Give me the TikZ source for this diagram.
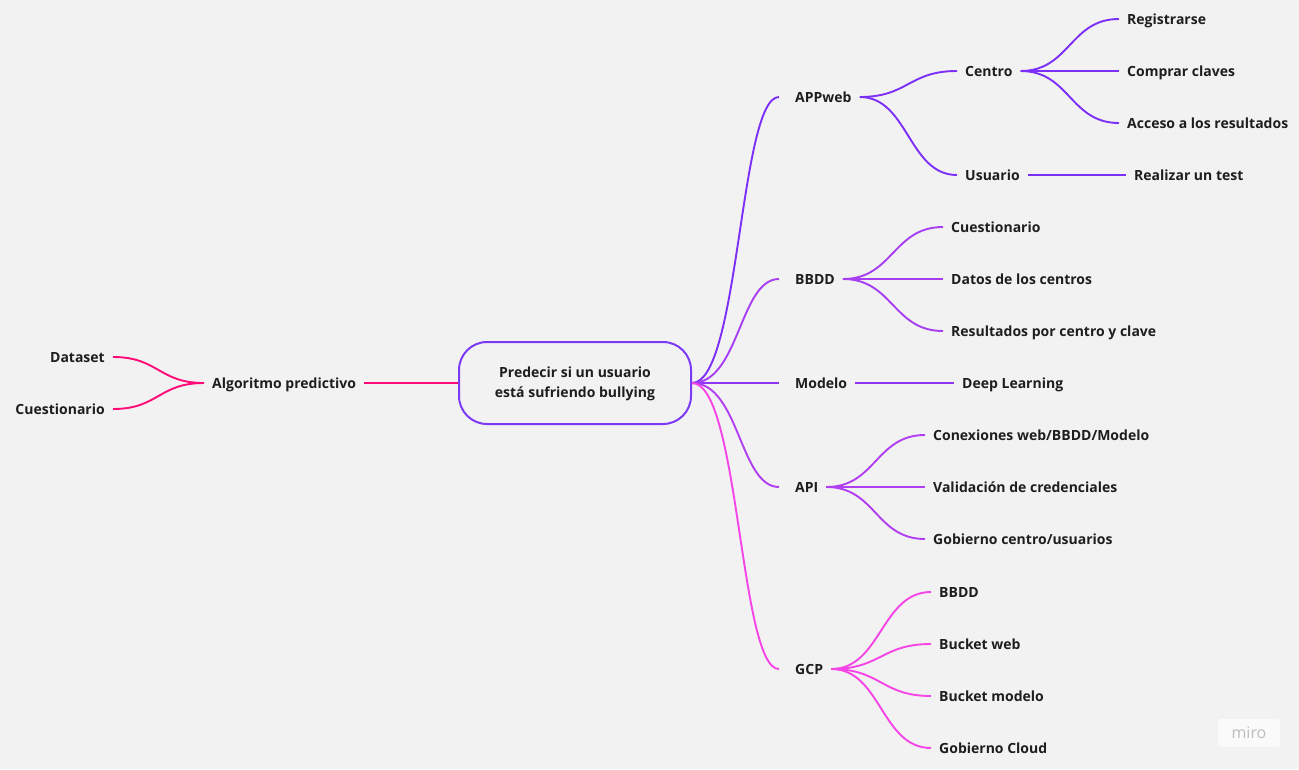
\documentclass[tikz,border=0pt]{standalone}
\usepackage{fontspec}
\setmainfont{Open Sans}
\usetikzlibrary{calc,positioning}
\definecolor{cBG}{HTML}{F2F2F2}
\definecolor{cTXT}{HTML}{1E1E1E}
\definecolor{cBOX}{HTML}{7C3AF5}
\definecolor{cALG}{HTML}{FF0A78}
\definecolor{cAPP}{HTML}{7B2FF7}
\definecolor{cBD}{HTML}{A83EF2}
\definecolor{cMOD}{HTML}{8F36F6}
\definecolor{cAPI}{HTML}{B13EF0}
\definecolor{cGCP}{HTML}{F645E6}
\tikzset{
  sbend/.style={line width=1.9pt, to path={let \p1=(\tikztostart), \p2=(\tikztotarget) in .. controls ({0.5*\x1+0.5*\x2},\y1) and ({0.5*\x1+0.5*\x2},\y2) .. (\tikztotarget) \tikztonodes}},
  lbl/.style={text=cTXT, font=\fontsize{14}{17}\selectfont\bfseries, inner xsep=8pt, inner ysep=3pt, text height=10pt, text depth=0pt},
}

\begin{document}
\begin{tikzpicture}[x=1pt, y=-1pt]
\fill[cBG] (0,0) rectangle (1299,769);
\useasboundingbox (0,0) rectangle (1299,769);
% centre
\node[draw=cBOX, line width=2pt, rounded corners=28pt, minimum width=232pt, minimum height=82pt, align=center, text=cTXT, font=\fontsize{14}{20}\selectfont\bfseries] (root) at (575,383) {\rule{0pt}{12pt}Predecir si un usuario\\está sufriendo bullying};
% left side
\node[lbl, anchor=west] (algo) at (204,383) {Algoritmo predictivo};
\node[lbl, anchor=east] (dataset) at (113,357) {Dataset};
\node[lbl, anchor=east] (cuest) at (113,409) {Cuestionario};
\draw[cALG, sbend] (algo.east) to (root.west);
\foreach \k in {dataset,cuest} \draw[cALG, sbend] (algo.west) to (\k.east);
% first level
\foreach \k/\t/\v/\c in {appweb/APPweb/97/cAPP, bbdd/BBDD/279/cBD, modelo/Modelo/383/cMOD, api/API/487/cAPI, gcp/GCP/669/cGCP}{
  \node[lbl, anchor=west] (\k) at (787,\v) {\t};
  \draw[\c, sbend, shorten >=8pt] (root.east) to (\k.west);
}
% APPweb
\node[lbl, anchor=west] (centro) at (957,71) {Centro};
\node[lbl, anchor=west] (usuario) at (957,175) {Usuario};
\foreach \k in {centro,usuario} \draw[cAPP, sbend] (appweb.east) to (\k.west);
\foreach \k/\t/\v in {regis/Registrarse/19, compr/Comprar claves/71, acceso/Acceso a los resultados/123}{
  \node[lbl, anchor=west] (\k) at (1119,\v) {\t};
  \draw[cAPP, sbend] (centro.east) to (\k.west);
}
\node[lbl, anchor=west] (realizar) at (1126,175) {Realizar un test};
\draw[cAPP, sbend] (usuario.east) to (realizar.west);
% BBDD
\foreach \k/\t/\v in {cuest2/Cuestionario/227, datos/Datos de los centros/279, resul/Resultados por centro y clave/331}{
  \node[lbl, anchor=west] (\k) at (943,\v) {\t};
  \draw[cBD, sbend] (bbdd.east) to (\k.west);
}
% Modelo
\node[lbl, anchor=west] (deep) at (954,383) {Deep Learning};
\draw[cMOD, sbend] (modelo.east) to (deep.west);
% API
\foreach \k/\t/\v in {conex/{Conexiones web/BBDD/Modelo}/435, valid/Validación de credenciales/487, gobc/{Gobierno centro/usuarios}/539}{
  \node[lbl, anchor=west] (\k) at (925,\v) {\t};
  \draw[cAPI, sbend] (api.east) to (\k.west);
}
% GCP
\foreach \k/\t/\v in {gbbdd/BBDD/592, bweb/Bucket web/644, bmod/Bucket modelo/696, gcloud/Gobierno Cloud/748}{
  \node[lbl, anchor=west] (\k) at (931,\v) {\t};
  \draw[cGCP, sbend] (gcp.east) to (\k.west);
}
% watermark
\node[fill=white!60!cBG, rounded corners=3pt, minimum width=62pt, minimum height=28pt, text=black!26, font=\fontsize{16}{18}\selectfont] (miro) at (1249,733) {miro};
\end{tikzpicture}
\end{document}
